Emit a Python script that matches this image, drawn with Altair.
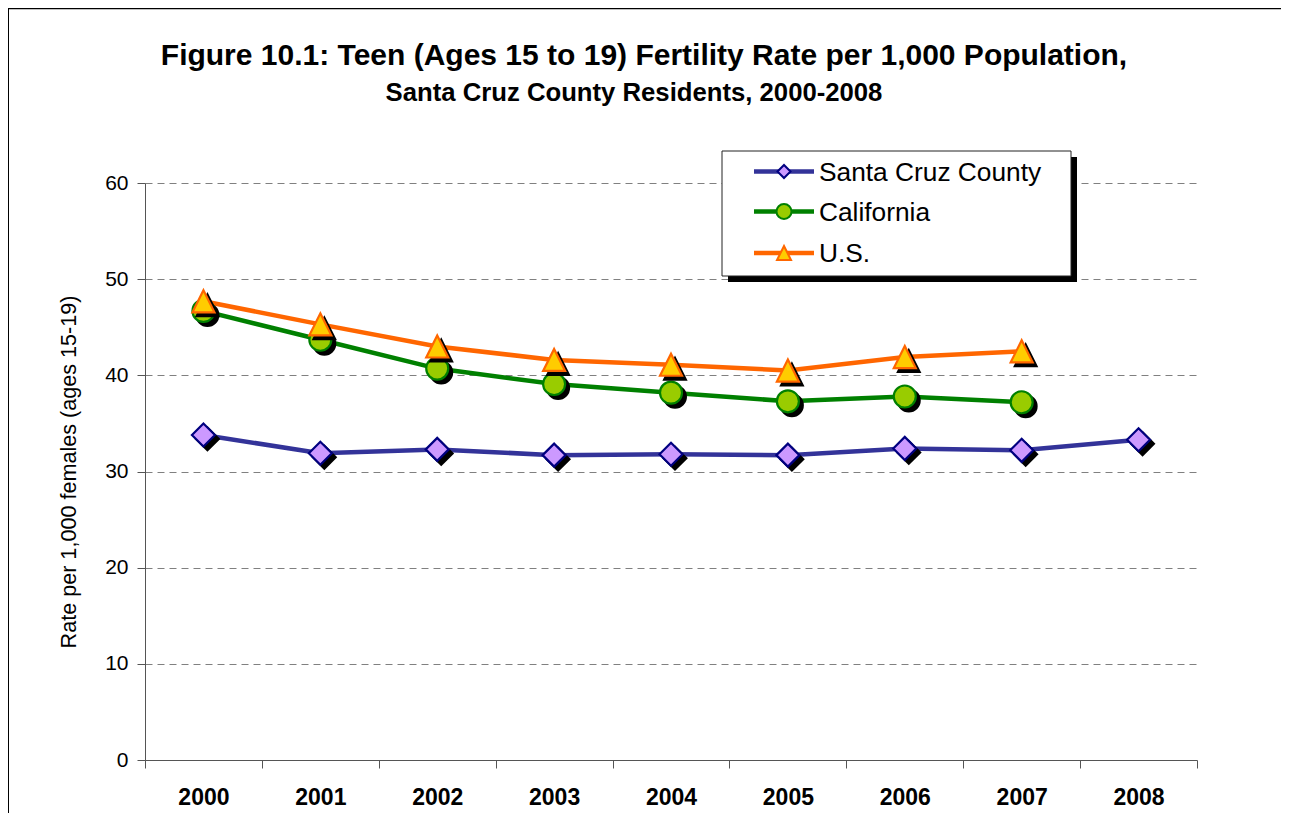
import altair as alt
import pandas as pd

# ---------------- data ----------------
years = ["2000", "2001", "2002", "2003", "2004", "2005", "2006", "2007", "2008"]
santa_cruz = [33.8, 31.9, 32.3, 31.7, 31.8, 31.7, 32.4, 32.2, 33.3]
california = [46.7, 43.7, 40.7, 39.1, 38.2, 37.3, 37.8, 37.2]
us = [47.7, 45.3, 43.0, 41.6, 41.1, 40.5, 41.9, 42.5]

series_names = ["Santa Cruz County", "California", "U.S."]
series_values = [santa_cruz, california, us]
y_ticks = [0, 10, 20, 30, 40, 50, 60]

title_text = "Figure 10.1: Teen (Ages 15 to 19) Fertility Rate per 1,000 Population,"
subtitle_text = "Santa Cruz County Residents, 2000-2008"
y_title = "Rate per 1,000 females (ages 15-19)"

# ---------------- styles ----------------
FONT = "Liberation Sans"
line_colors = ["#333399", "#008000", "#FF6600"]
fill_colors = ["#CC99FF", "#99CC00", "#FFCC00"]
stroke_colors = ["#000080", "#008000", "#FF6600"]
shapes = ["diamond", "circle", "M0,-1L1,1L-1,1Z"]
marker_sizes = [529, 484, 484]
legend_sizes = [169, 225, 196]

W, H = 1052, 577
PAD_L, PAD_T, PAD_R, PAD_B = 137, 175, 84, 53

x_enc = alt.X(
    "year:O",
    scale=alt.Scale(type="band", domain=years, paddingInner=0, paddingOuter=0),
    bandPosition=0.5,
    axis=alt.Axis(
        title=None, labelAngle=0, labelFont=FONT, labelFontSize=23,
        labelFontWeight="bold", labelColor="black", labelPadding=18,
        tickBand="extent", tickSize=8, tickColor="#555555",
        domainColor="#555555", grid=False,
    ),
)
y_enc = alt.Y(
    "value:Q",
    scale=alt.Scale(domain=[0, 60], nice=False, zero=True),
    axis=alt.Axis(
        values=y_ticks, title=y_title, titleFont=FONT, titleFontSize=21.6,
        titleFontWeight="normal", titleColor="black", titleAngle=-90,
        titleX=-76, titleY=H / 2, titleAlign="center", titleBaseline="middle",
        labelFont=FONT, labelFontSize=21, labelColor="black", labelPadding=9,
        tickSize=8, tickColor="#555555", domainColor="#555555",
        grid=True, gridColor="#808080", gridDash=[7, 5], gridWidth=1,
    ),
)

layers = []

# outer frame (left and top edges as thin filled bars; the others lie outside the picture)
one = pd.DataFrame({"k": [0]})
layers.append(
    alt.Chart(one).mark_rect(fill="black").encode(
        x=alt.value(-137.2), x2=alt.value(-136.0), y=alt.value(-175.0), y2=alt.value(H + PAD_B)
    )
)
layers.append(
    alt.Chart(one).mark_rect(fill="black").encode(
        x=alt.value(-137.2), x2=alt.value(W + PAD_R), y=alt.value(-175.0), y2=alt.value(-173.8)
    )
)

frames = []
for name, vals in zip(series_names, series_values):
    frames.append(pd.DataFrame({"year": years[: len(vals)], "value": vals, "series": name}))

# lines
for i, df in enumerate(frames):
    layers.append(
        alt.Chart(df).mark_line(color=line_colors[i], strokeWidth=4.5).encode(x=x_enc, y=y_enc)
    )
# marker shadows + markers
for i, df in enumerate(frames):
    layers.append(
        alt.Chart(df).mark_point(
            shape=shapes[i], filled=True, fill="black", stroke="black", strokeWidth=2,
            size=marker_sizes[i], opacity=1, xOffset=4, yOffset=4,
        ).encode(x=x_enc, y=y_enc)
    )
    layers.append(
        alt.Chart(df).mark_point(
            shape=shapes[i], filled=True, fill=fill_colors[i], stroke=stroke_colors[i],
            strokeWidth=2.2, size=marker_sizes[i], opacity=1,
        ).encode(x=x_enc, y=y_enc)
    )

# titles
layers.append(
    alt.Chart(pd.DataFrame({"t": [title_text]})).mark_text(
        font=FONT, fontSize=30, fontWeight="bold", color="black", align="center", baseline="alphabetic"
    ).encode(text="t:N", x=alt.value(644 - 145), y=alt.value(65 - 183))
)
layers.append(
    alt.Chart(pd.DataFrame({"t": [subtitle_text]})).mark_text(
        font=FONT, fontSize=25.7, fontWeight="bold", color="black", align="center", baseline="alphabetic"
    ).encode(text="t:N", x=alt.value(634 - 145), y=alt.value(100.5 - 183))
)

# legend box with shadow
LX0, LX1, LY0, LY1 = 577, 926, -32, 93
layers.append(
    alt.Chart(one).mark_rect(fill="black").encode(
        x=alt.value(LX0 + 6), x2=alt.value(LX1 + 6), y=alt.value(LY0 + 6), y2=alt.value(LY1 + 6)
    )
)
layers.append(
    alt.Chart(one).mark_rect(fill="white", stroke="#222222", strokeWidth=1).encode(
        x=alt.value(LX0), x2=alt.value(LX1), y=alt.value(LY0), y2=alt.value(LY1)
    )
)
row_y = [-11.5, 28.5, 70]
for i, name in enumerate(series_names):
    d = pd.DataFrame({"t": [name]})
    layers.append(
        alt.Chart(d).mark_rect(fill=line_colors[i]).encode(
            x=alt.value(609), x2=alt.value(669), y=alt.value(row_y[i] - 2.25), y2=alt.value(row_y[i] + 2.25)
        )
    )
    layers.append(
        alt.Chart(d).mark_point(
            shape=shapes[i], filled=True, fill=fill_colors[i], stroke=stroke_colors[i],
            strokeWidth=2, size=legend_sizes[i], opacity=1,
        ).encode(x=alt.value(639), y=alt.value(row_y[i]))
    )
    layers.append(
        alt.Chart(d).mark_text(
            font=FONT, fontSize=26.3, color="black", align="left", baseline="middle"
        ).encode(text="t:N", x=alt.value(674), y=alt.value(row_y[i] + 1))
    )

chart = (
    alt.layer(*layers)
    .properties(
        width=W, height=H,
        autosize=alt.AutoSizeParams(type="none"),
        padding={"left": PAD_L, "top": PAD_T, "right": PAD_R, "bottom": PAD_B},
        background="white",
    )
    .configure_view(strokeWidth=0)
)

chart.save("out.html", embed_options={"renderer": "svg", "actions": False})
